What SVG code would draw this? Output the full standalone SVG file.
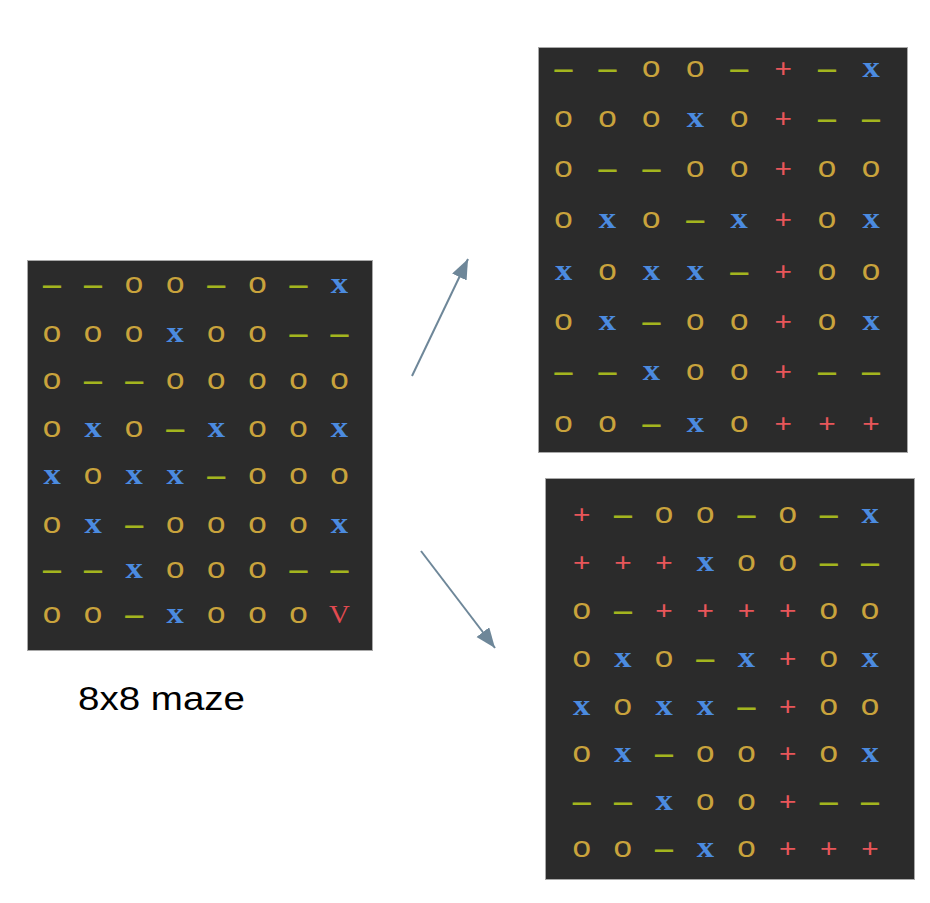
<svg xmlns="http://www.w3.org/2000/svg" width="930" height="903" viewBox="0 0 930 903">
<style>
.panel{fill:#2b2b2b;stroke:#a8a8a8;stroke-width:1}
.g{font-family:"Liberation Mono","DejaVu Sans Mono",monospace;font-size:26px;text-anchor:middle}
.o{fill:#c9a33c;font-size:29px}
.d{fill:#a3b51e;font-weight:bold}
.x{fill:#4b8be0;font-weight:bold;font-family:"Liberation Serif","DejaVu Serif",serif;font-size:30px}
.p{fill:#e8565a}
.v{fill:#e24a50;font-family:"Liberation Serif","DejaVu Serif",serif;font-size:25px}
.lbl{font-family:"Liberation Sans",Arial,sans-serif;font-size:33px;fill:#000}
.arr{stroke:#6e8799;stroke-width:2;fill:none}
</style>
<defs>
<marker id="ah" markerUnits="userSpaceOnUse" markerWidth="22" markerHeight="18" refX="20" refY="8" orient="auto">
<path d="M0,0 L20,8 L0,16 z" fill="#6e8799"/>
</marker>
</defs>
<rect width="930" height="903" fill="#fff"/>

<g id="maze">
<rect class="panel" x="27.5" y="260.5" width="345" height="390"/>
<g class="g" transform="translate(52,0) scale(1.15,1)">
<text y="293"><tspan class="d" x="0">—</tspan><tspan class="d" x="35.7">—</tspan><tspan class="o" x="71.4">o</tspan><tspan class="o" x="107.1">o</tspan><tspan class="d" x="142.9">—</tspan><tspan class="o" x="178.6">o</tspan><tspan class="d" x="214.3">—</tspan><tspan class="x" x="250">x</tspan></text>
<text y="342"><tspan class="o" x="0">o</tspan><tspan class="o" x="35.7">o</tspan><tspan class="o" x="71.4">o</tspan><tspan class="x" x="107.1">x</tspan><tspan class="o" x="142.9">o</tspan><tspan class="o" x="178.6">o</tspan><tspan class="d" x="214.3">—</tspan><tspan class="d" x="250">—</tspan></text>
<text y="389"><tspan class="o" x="0">o</tspan><tspan class="d" x="35.7">—</tspan><tspan class="d" x="71.4">—</tspan><tspan class="o" x="107.1">o</tspan><tspan class="o" x="142.9">o</tspan><tspan class="o" x="178.6">o</tspan><tspan class="o" x="214.3">o</tspan><tspan class="o" x="250">o</tspan></text>
<text y="437"><tspan class="o" x="0">o</tspan><tspan class="x" x="35.7">x</tspan><tspan class="o" x="71.4">o</tspan><tspan class="d" x="107.1">—</tspan><tspan class="x" x="142.9">x</tspan><tspan class="o" x="178.6">o</tspan><tspan class="o" x="214.3">o</tspan><tspan class="x" x="250">x</tspan></text>
<text y="484"><tspan class="x" x="0">x</tspan><tspan class="o" x="35.7">o</tspan><tspan class="x" x="71.4">x</tspan><tspan class="x" x="107.1">x</tspan><tspan class="d" x="142.9">—</tspan><tspan class="o" x="178.6">o</tspan><tspan class="o" x="214.3">o</tspan><tspan class="o" x="250">o</tspan></text>
<text y="533"><tspan class="o" x="0">o</tspan><tspan class="x" x="35.7">x</tspan><tspan class="d" x="71.4">—</tspan><tspan class="o" x="107.1">o</tspan><tspan class="o" x="142.9">o</tspan><tspan class="o" x="178.6">o</tspan><tspan class="o" x="214.3">o</tspan><tspan class="x" x="250">x</tspan></text>
<text y="578"><tspan class="d" x="0">—</tspan><tspan class="d" x="35.7">—</tspan><tspan class="x" x="71.4">x</tspan><tspan class="o" x="107.1">o</tspan><tspan class="o" x="142.9">o</tspan><tspan class="o" x="178.6">o</tspan><tspan class="d" x="214.3">—</tspan><tspan class="d" x="250">—</tspan></text>
<text y="623"><tspan class="o" x="0">o</tspan><tspan class="o" x="35.7">o</tspan><tspan class="d" x="71.4">—</tspan><tspan class="x" x="107.1">x</tspan><tspan class="o" x="142.9">o</tspan><tspan class="o" x="178.6">o</tspan><tspan class="o" x="214.3">o</tspan><tspan class="v" x="250">V</tspan></text>
</g>
<text class="lbl" x="78" y="710" textLength="167" lengthAdjust="spacingAndGlyphs">8x8 maze</text>
</g>

<g id="solution-top">
<rect class="panel" x="538.5" y="47.5" width="369" height="405"/>
<g class="g" transform="translate(563.5,0) scale(1.15,1)">
<text y="77"><tspan class="d" x="0">—</tspan><tspan class="d" x="38.2">—</tspan><tspan class="o" x="76.4">o</tspan><tspan class="o" x="114.6">o</tspan><tspan class="d" x="152.8">—</tspan><tspan class="p" x="191">+</tspan><tspan class="d" x="229.2">—</tspan><tspan class="x" x="267.4">x</tspan></text>
<text y="127"><tspan class="o" x="0">o</tspan><tspan class="o" x="38.2">o</tspan><tspan class="o" x="76.4">o</tspan><tspan class="x" x="114.6">x</tspan><tspan class="o" x="152.8">o</tspan><tspan class="p" x="191">+</tspan><tspan class="d" x="229.2">—</tspan><tspan class="d" x="267.4">—</tspan></text>
<text y="177"><tspan class="o" x="0">o</tspan><tspan class="d" x="38.2">—</tspan><tspan class="d" x="76.4">—</tspan><tspan class="o" x="114.6">o</tspan><tspan class="o" x="152.8">o</tspan><tspan class="p" x="191">+</tspan><tspan class="o" x="229.2">o</tspan><tspan class="o" x="267.4">o</tspan></text>
<text y="228.5"><tspan class="o" x="0">o</tspan><tspan class="x" x="38.2">x</tspan><tspan class="o" x="76.4">o</tspan><tspan class="d" x="114.6">—</tspan><tspan class="x" x="152.8">x</tspan><tspan class="p" x="191">+</tspan><tspan class="o" x="229.2">o</tspan><tspan class="x" x="267.4">x</tspan></text>
<text y="280"><tspan class="x" x="0">x</tspan><tspan class="o" x="38.2">o</tspan><tspan class="x" x="76.4">x</tspan><tspan class="x" x="114.6">x</tspan><tspan class="d" x="152.8">—</tspan><tspan class="p" x="191">+</tspan><tspan class="o" x="229.2">o</tspan><tspan class="o" x="267.4">o</tspan></text>
<text y="330"><tspan class="o" x="0">o</tspan><tspan class="x" x="38.2">x</tspan><tspan class="d" x="76.4">—</tspan><tspan class="o" x="114.6">o</tspan><tspan class="o" x="152.8">o</tspan><tspan class="p" x="191">+</tspan><tspan class="o" x="229.2">o</tspan><tspan class="x" x="267.4">x</tspan></text>
<text y="380"><tspan class="d" x="0">—</tspan><tspan class="d" x="38.2">—</tspan><tspan class="x" x="76.4">x</tspan><tspan class="o" x="114.6">o</tspan><tspan class="o" x="152.8">o</tspan><tspan class="p" x="191">+</tspan><tspan class="d" x="229.2">—</tspan><tspan class="d" x="267.4">—</tspan></text>
<text y="432"><tspan class="o" x="0">o</tspan><tspan class="o" x="38.2">o</tspan><tspan class="d" x="76.4">—</tspan><tspan class="x" x="114.6">x</tspan><tspan class="o" x="152.8">o</tspan><tspan class="p" x="191">+</tspan><tspan class="p" x="229.2">+</tspan><tspan class="p" x="267.4">+</tspan></text>
</g>
</g>

<g id="solution-bottom">
<rect class="panel" x="545.5" y="478.5" width="369" height="401"/>
<g class="g" transform="translate(581.7,0) scale(1.15,1)">
<text y="523.5"><tspan class="p" x="0">+</tspan><tspan class="d" x="35.8">—</tspan><tspan class="o" x="71.6">o</tspan><tspan class="o" x="107.5">o</tspan><tspan class="d" x="143.3">—</tspan><tspan class="o" x="179.1">o</tspan><tspan class="d" x="214.9">—</tspan><tspan class="x" x="250.7">x</tspan></text>
<text y="571"><tspan class="p" x="0">+</tspan><tspan class="p" x="35.8">+</tspan><tspan class="p" x="71.6">+</tspan><tspan class="x" x="107.5">x</tspan><tspan class="o" x="143.3">o</tspan><tspan class="o" x="179.1">o</tspan><tspan class="d" x="214.9">—</tspan><tspan class="d" x="250.7">—</tspan></text>
<text y="619.5"><tspan class="o" x="0">o</tspan><tspan class="d" x="35.8">—</tspan><tspan class="p" x="71.6">+</tspan><tspan class="p" x="107.5">+</tspan><tspan class="p" x="143.3">+</tspan><tspan class="p" x="179.1">+</tspan><tspan class="o" x="214.9">o</tspan><tspan class="o" x="250.7">o</tspan></text>
<text y="667"><tspan class="o" x="0">o</tspan><tspan class="x" x="35.8">x</tspan><tspan class="o" x="71.6">o</tspan><tspan class="d" x="107.5">—</tspan><tspan class="x" x="143.3">x</tspan><tspan class="p" x="179.1">+</tspan><tspan class="o" x="214.9">o</tspan><tspan class="x" x="250.7">x</tspan></text>
<text y="715"><tspan class="x" x="0">x</tspan><tspan class="o" x="35.8">o</tspan><tspan class="x" x="71.6">x</tspan><tspan class="x" x="107.5">x</tspan><tspan class="d" x="143.3">—</tspan><tspan class="p" x="179.1">+</tspan><tspan class="o" x="214.9">o</tspan><tspan class="o" x="250.7">o</tspan></text>
<text y="762"><tspan class="o" x="0">o</tspan><tspan class="x" x="35.8">x</tspan><tspan class="d" x="71.6">—</tspan><tspan class="o" x="107.5">o</tspan><tspan class="o" x="143.3">o</tspan><tspan class="p" x="179.1">+</tspan><tspan class="o" x="214.9">o</tspan><tspan class="x" x="250.7">x</tspan></text>
<text y="810"><tspan class="d" x="0">—</tspan><tspan class="d" x="35.8">—</tspan><tspan class="x" x="71.6">x</tspan><tspan class="o" x="107.5">o</tspan><tspan class="o" x="143.3">o</tspan><tspan class="p" x="179.1">+</tspan><tspan class="d" x="214.9">—</tspan><tspan class="d" x="250.7">—</tspan></text>
<text y="857"><tspan class="o" x="0">o</tspan><tspan class="o" x="35.8">o</tspan><tspan class="d" x="71.6">—</tspan><tspan class="x" x="107.5">x</tspan><tspan class="o" x="143.3">o</tspan><tspan class="p" x="179.1">+</tspan><tspan class="p" x="214.9">+</tspan><tspan class="p" x="250.7">+</tspan></text>
</g>
</g>

<g id="connectors">
<line class="arr" x1="412" y1="376" x2="468" y2="259" marker-end="url(#ah)"/>
<line class="arr" x1="421" y1="551" x2="495" y2="648" marker-end="url(#ah)"/>
</g>
</svg>
